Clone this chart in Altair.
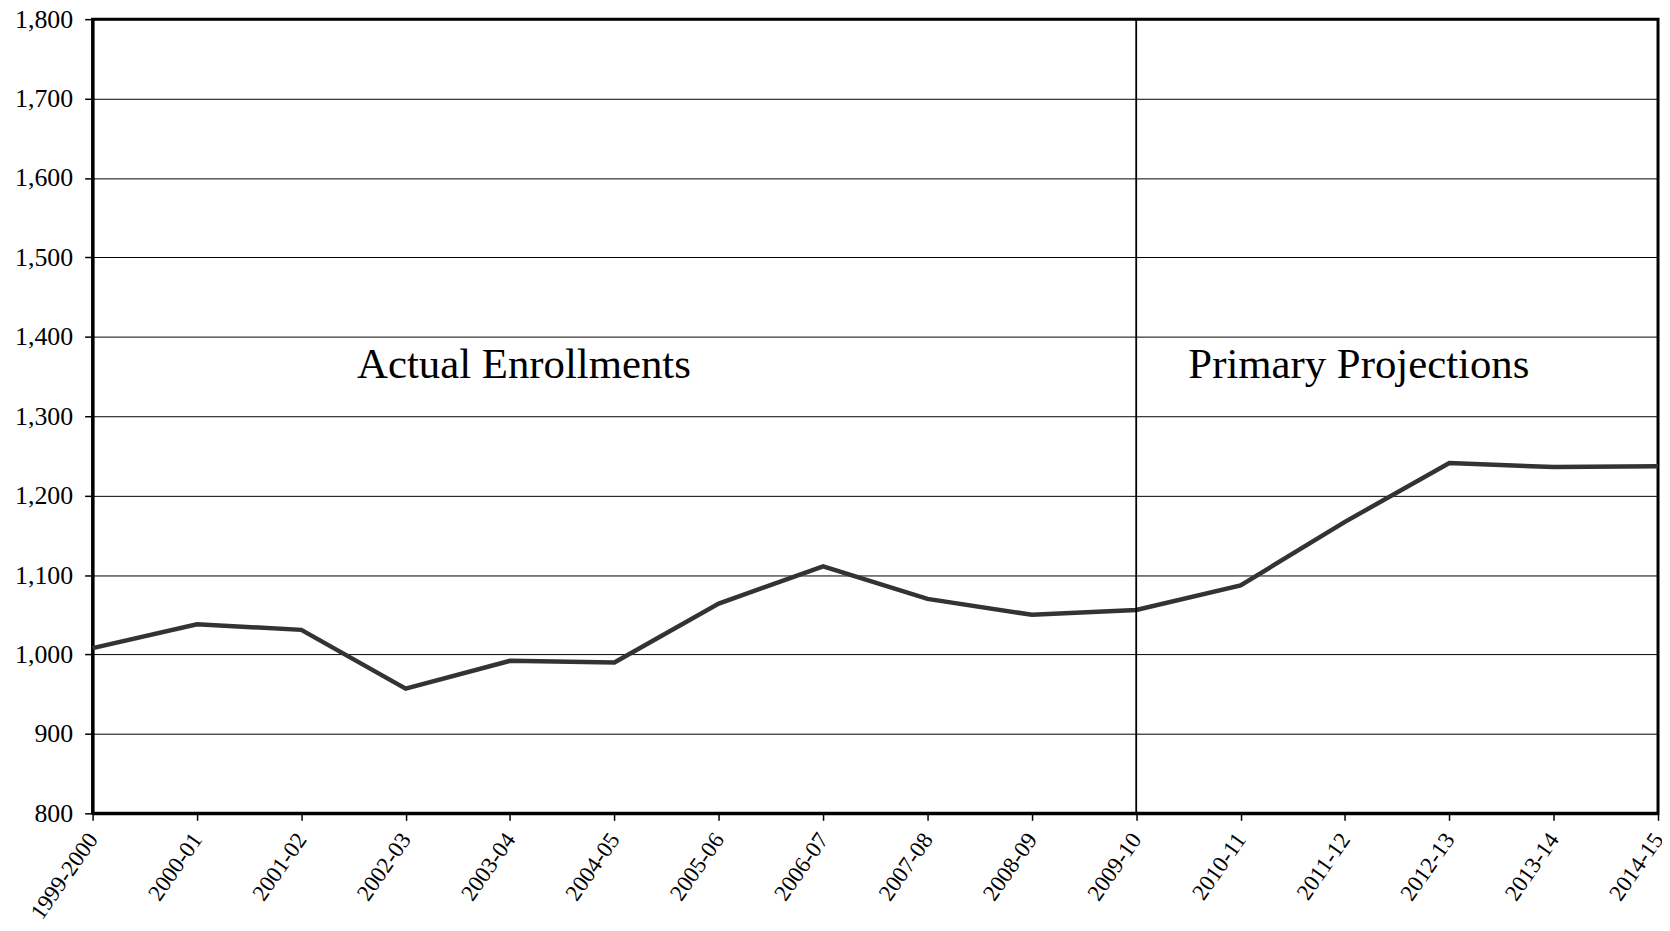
import altair as alt
import pandas as pd

years = ["1999-2000", "2000-01", "2001-02", "2002-03", "2003-04", "2004-05",
         "2005-06", "2006-07", "2007-08", "2008-09", "2009-10", "2010-11",
         "2011-12", "2012-13", "2013-14", "2014-15"]
enroll = [1008, 1038, 1031, 957, 992, 990, 1064, 1111, 1070, 1050, 1056,
          1087, 1167, 1241, 1236, 1237]

divider_year = ["2009-10"]
label_text = ["Actual Enrollments", "Primary Projections"]
label_year = ["2003-04", "2011-12"]
label_value = [1365, 1365]

df = pd.DataFrame({"year": years, "enroll": enroll})
lab = pd.DataFrame({"text": label_text, "year": label_year, "value": label_value})
div = pd.DataFrame({"year": divider_year})

FONT = "Liberation Serif"

xscale = alt.Scale(type="point", domain=years, padding=0)
yscale = alt.Scale(domain=[800, 1800], nice=False)

xaxis = alt.Axis(labelAngle=305, labelAlign="right", labelBaseline="middle",
                 labelFont=FONT, labelFontSize=23, labelColor="black",
                 tickColor="black", tickSize=7, tickWidth=1.5, domainColor="black",
                 domainWidth=3, grid=False, labelPadding=15)
yaxis = alt.Axis(values=list(range(800, 1801, 100)), format=",d",
                 labelFont=FONT, labelFontSize=26, labelColor="black",
                 tickColor="black", tickSize=8, tickWidth=1.5, domainColor="black",
                 domainWidth=3, grid=True, gridColor="black",
                 gridWidth=1, labelPadding=12)

X = alt.X("year:N", scale=xscale, sort=years, title=None, axis=xaxis)

line = alt.Chart(df).mark_line(color="#333333", strokeWidth=4.5).encode(
    x=X,
    y=alt.Y("enroll:Q", scale=yscale, title=None, axis=yaxis)
)

rule = alt.Chart(div).mark_rule(color="black", strokeWidth=1.8).encode(x=X)

texts = alt.Chart(lab).mark_text(font=FONT, fontSize=43, color="black",
                                 align="center", baseline="middle", dx=14).encode(
    x=X,
    y=alt.Y("value:Q", scale=yscale, title=None, axis=yaxis),
    text="text:N"
)

chart = alt.layer(line, rule, texts).properties(
    width=1573, height=798,
    autosize=alt.AutoSizeParams(type="none"),
    padding={"left": 85, "top": 9, "right": 4, "bottom": 108},
    background="white"
).configure_view(stroke="black", strokeWidth=3)

chart.save("out.html", embed_options={"renderer": "svg", "actions": False})
